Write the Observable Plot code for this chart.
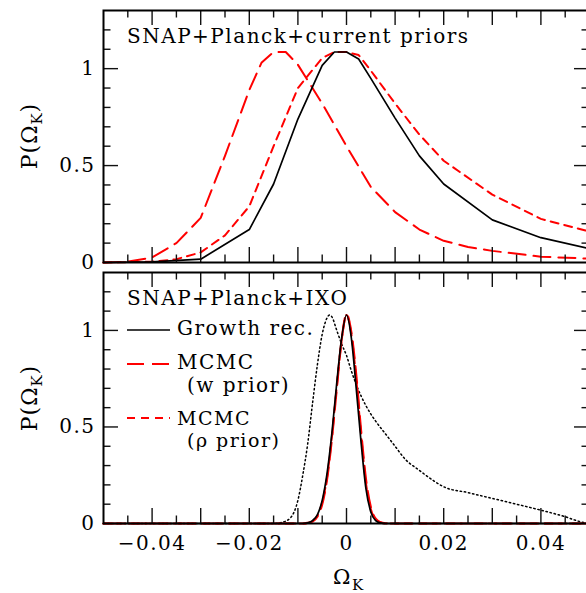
<!DOCTYPE html>
<html>
<head>
<meta charset="utf-8">
<script src="https://cdn.jsdelivr.net/npm/d3@7"></script>
<script src="https://cdn.jsdelivr.net/npm/@observablehq/plot@0.6"></script>
<style>
  html, body { margin: 0; padding: 0; background: white; }
  #chart { position: relative; width: 586px; height: 593px; overflow: hidden; }
  #chart svg { position: absolute; left: 0; }
</style>
</head>
<body>
<div id="chart"></div>
<script>
// ---------- Data ----------
const topGrowthX = [-0.05, -0.04, -0.03, -0.02, -0.015, -0.01, -0.005, -0.0025, 0, 0.0025, 0.005, 0.01, 0.015, 0.02, 0.03, 0.04, 0.05];
const topGrowthP = [0, 0.003, 0.017, 0.17, 0.405, 0.74, 1.017, 1.086, 1.086, 1.05, 0.95, 0.745, 0.55, 0.405, 0.22, 0.128, 0.072];

const topWX = [-0.05, -0.045, -0.04, -0.035, -0.03, -0.025, -0.02, -0.0175, -0.015, -0.0125, -0.01, -0.005, 0, 0.005, 0.01, 0.015, 0.02, 0.025, 0.03, 0.04, 0.05];
const topWP = [0, 0.004, 0.026, 0.1, 0.23, 0.55, 0.89, 1.03, 1.086, 1.086, 1.02, 0.82, 0.6, 0.39, 0.26, 0.17, 0.112, 0.08, 0.06, 0.03, 0.02];

const topRhoX = [-0.05, -0.04, -0.035, -0.03, -0.025, -0.02, -0.015, -0.01, -0.005, -0.0025, 0, 0.0025, 0.005, 0.01, 0.015, 0.02, 0.03, 0.04, 0.05];
const topRhoP = [0, 0.004, 0.017, 0.052, 0.14, 0.29, 0.6, 0.9, 1.055, 1.086, 1.086, 1.07, 0.99, 0.82, 0.66, 0.525, 0.35, 0.225, 0.16];

const botGrowthX = [-0.05, -0.009, -0.008, -0.007, -0.006, -0.005, -0.004, -0.003, -0.002, -0.001, 0, 0.001, 0.002, 0.003, 0.004, 0.005, 0.006, 0.007, 0.008, 0.05];
const botGrowthP = [0, 0, 0.004, 0.015, 0.045, 0.12, 0.26, 0.47, 0.73, 0.96, 1.08, 0.96, 0.7, 0.42, 0.18, 0.06, 0.015, 0.003, 0, 0];

const botWX = [-0.05, -0.009, -0.008, -0.007, -0.006, -0.005, -0.004, -0.003, -0.002, -0.001, 0, 0.001, 0.002, 0.003, 0.004, 0.005, 0.006, 0.007, 0.008, 0.009, 0.05];
const botWP = [0, 0, 0.003, 0.01, 0.035, 0.1, 0.23, 0.44, 0.7, 0.95, 1.085, 0.99, 0.77, 0.48, 0.23, 0.085, 0.025, 0.006, 0.001, 0, 0];

const botRhoX = [-0.05, -0.009, -0.008, -0.007, -0.006, -0.005, -0.004, -0.003, -0.002, -0.001, 0, 0.001, 0.002, 0.003, 0.004, 0.005, 0.006, 0.007, 0.008, 0.009, 0.05];
const botRhoP = [0, 0, 0.003, 0.012, 0.04, 0.11, 0.24, 0.45, 0.71, 0.95, 1.08, 0.98, 0.75, 0.46, 0.21, 0.075, 0.02, 0.005, 0.001, 0, 0];

const botDotX = [-0.05, -0.015, -0.013, -0.0115, -0.01, -0.009, -0.008, -0.007, -0.006, -0.005, -0.004, -0.0035, -0.003, -0.002, -0.001, 0, 0.001, 0.002, 0.004, 0.006, 0.008, 0.01, 0.012, 0.015, 0.018, 0.02, 0.025, 0.03, 0.035, 0.04, 0.045, 0.048, 0.05];
const botDotP = [0, 0, 0.008, 0.03, 0.12, 0.25, 0.41, 0.62, 0.82, 0.98, 1.065, 1.08, 1.07, 1.0, 0.93, 0.87, 0.79, 0.72, 0.61, 0.53, 0.465, 0.4, 0.335, 0.275, 0.22, 0.19, 0.16, 0.13, 0.1, 0.069, 0.035, 0.01, 0];

const xMajorTicks = [-0.04, -0.03, -0.02, -0.01, 0, 0.01, 0.02, 0.03, 0.04];
const xMinorTicks = [-0.045, -0.035, -0.025, -0.015, -0.005, 0.005, 0.015, 0.025, 0.035, 0.045];
const xLabelTicks = [-0.04, -0.02, 0, 0.02, 0.04];
const yMajorTicks = [0, 0.5, 1];
const yMinorTicks = [0.1, 0.2, 0.3, 0.4, 0.6, 0.7, 0.8, 0.9, 1.1, 1.2];
const xDomain = [-0.05, 0.05];
const yDomain = [0, 1.3];

const topTitle = "SNAP+Planck+current priors";
const botTitle = "SNAP+Planck+IXO";
const legendLabels = [["Growth rec."], ["MCMC", "(w prior)"], ["MCMC", "(\u03C1 prior)"]];

// ---------- Helpers ----------
const rows = (xs, ys) => xs.map((x, i) => ({x, y: ys[i]}));
const RED = "#ff0000";
const LONG = "17,8";
const SHORT = "8,6";
const DOT = "1.4,2.8";
const FONT = "'DejaVu Serif', serif";
const WIDTH = 586, ML = 103, MR = -3;
const PW = WIDTH - ML - MR;

const styleStr = (bg) => `font-family: ${FONT}; font-size: 20px; letter-spacing: 1.5px; background: ${bg}; overflow: visible;`;

function tickMarks(PH) {
  const st = {stroke: "#111", strokeWidth: 1.4};
  const m = [];
  for (const [ticks, len] of [[xMajorTicks, 15], [xMinorTicks, 7.5]]) {
    m.push(Plot.ruleX(ticks, {x: d => d, insetTop: PH - len, ...st}));
    m.push(Plot.ruleX(ticks, {x: d => d, insetBottom: PH - len, ...st}));
  }
  for (const [ticks, len] of [[yMajorTicks.filter(d => d > 0), 15], [yMinorTicks, 7.5]]) {
    m.push(Plot.ruleY(ticks, {y: d => d, insetRight: PW - len, ...st}));
    m.push(Plot.ruleY(ticks, {y: d => d, insetLeft: PW - len, ...st}));
  }
  return m;
}

const topDims = {width: WIDTH, height: 275, marginLeft: ML, marginRight: MR, marginTop: 10, marginBottom: 13};
const botDims = {width: WIDTH, height: 331, marginLeft: ML, marginRight: MR, marginTop: 10, marginBottom: 70};

const topPlot = Plot.plot({
  ...topDims,
  style: styleStr("white"),
  x: {domain: xDomain, axis: null},
  y: {domain: yDomain},
  marks: [
    Plot.line(rows(topRhoX, topRhoP), {x: "x", y: "y", stroke: RED, strokeWidth: 2, strokeDasharray: SHORT}),
    Plot.line(rows(topWX, topWP), {x: "x", y: "y", stroke: RED, strokeWidth: 2, strokeDasharray: LONG}),
    Plot.line(rows(topGrowthX, topGrowthP), {x: "x", y: "y", stroke: "black", strokeWidth: 1.7}),
    Plot.axisY({ticks: yMajorTicks, tickSize: 0, tickPadding: 8, label: null, tickFormat: d => String(d), fontSize: 20})
  ]
});

const botPlot = Plot.plot({
  ...botDims,
  style: styleStr("transparent"),
  x: {domain: xDomain},
  y: {domain: yDomain},
  marks: [
    Plot.line(rows(botDotX, botDotP), {x: "x", y: "y", stroke: "black", strokeWidth: 1.5, strokeDasharray: DOT, curve: "monotone-x"}),
    Plot.line(rows(botRhoX, botRhoP), {x: "x", y: "y", stroke: RED, strokeWidth: 2, strokeDasharray: SHORT, curve: "monotone-x"}),
    Plot.line(rows(botWX, botWP), {x: "x", y: "y", stroke: RED, strokeWidth: 2.2, strokeDasharray: LONG, curve: "monotone-x"}),
    Plot.line(rows(botGrowthX, botGrowthP), {x: "x", y: "y", stroke: "black", strokeWidth: 1.7, curve: "monotone-x"}),
    Plot.axisY({ticks: yMajorTicks, tickSize: 0, tickPadding: 8, label: null, tickFormat: d => String(d), fontSize: 20}),
    Plot.axisX({ticks: xLabelTicks, tickSize: 0, tickPadding: 12, label: null, fontSize: 20,
      tickFormat: d => d === 0 ? "0" : (d < 0 ? "\u2212" : "") + String(Math.abs(d))})
  ]
});

// Separate overlay plots for the inward ticks and the frames (same scales and margins)
const frameOverlay = (dims) => Plot.plot({
  ...dims,
  style: styleStr("transparent"),
  x: {domain: xDomain, axis: null},
  y: {domain: yDomain, axis: null},
  marks: [
    ...tickMarks(dims.height - dims.marginTop - dims.marginBottom),
    Plot.frame({stroke: "black", strokeWidth: 2})
  ]
});
const topTicks = frameOverlay(topDims);
const botTicks = frameOverlay(botDims);

const chart = document.getElementById("chart");
topPlot.style.top = "0px";
topTicks.style.top = "0px";
botPlot.style.top = "262px";
botTicks.style.top = "262px";
chart.appendChild(topPlot);
chart.appendChild(topTicks);
chart.appendChild(botPlot);
chart.appendChild(botTicks);

function addText(svg, x, y, str, size) {
  return d3.select(svg).append("text")
    .attr("x", x).attr("y", y)
    .attr("text-anchor", "start")
    .attr("font-family", FONT).attr("font-size", size || 20)
    .attr("letter-spacing", "1.5px").attr("fill", "black")
    .text(str);
}
function addYLabel(svg, cy) {
  const t = d3.select(svg).append("text")
    .attr("transform", `translate(37,${cy}) rotate(-90)`)
    .attr("text-anchor", "middle")
    .attr("font-family", FONT).attr("font-size", 22).attr("letter-spacing", "1px").attr("fill", "black");
  t.append("tspan").text("P(\u03A9");
  t.append("tspan").attr("font-size", 15).attr("dy", 5).text("K");
  t.append("tspan").attr("dy", -5).text(")");
}

addText(topPlot, 127, 43, topTitle);
addYLabel(topPlot, 136);
addText(botPlot, 127, 43, botTitle);
addYLabel(botPlot, 136);

{
  const t = d3.select(botPlot).append("text")
    .attr("x", 333).attr("y", 322)
    .attr("text-anchor", "start")
    .attr("font-family", FONT).attr("font-size", 21).attr("fill", "black");
  t.append("tspan").text("\u03A9");
  t.append("tspan").attr("font-size", 15).attr("dy", 6).text("K");
}

{
  const g = d3.select(botPlot).append("g");
  const sw = [
    {y: 68, stroke: "black", dash: null, w: 1.7},
    {y: 102, stroke: RED, dash: LONG, w: 2.2},
    {y: 156, stroke: RED, dash: SHORT, w: 2}
  ];
  sw.forEach(s => {
    g.append("line").attr("x1", 127).attr("x2", 170).attr("y1", s.y).attr("y2", s.y)
      .attr("stroke", s.stroke).attr("stroke-width", s.w)
      .attr("stroke-dasharray", s.dash);
  });
  addText(botPlot, 177, 73, legendLabels[0][0]);
  addText(botPlot, 177, 107, legendLabels[1][0]);
  addText(botPlot, 187, 130, legendLabels[1][1]);
  addText(botPlot, 177, 163, legendLabels[2][0], 19);
  addText(botPlot, 187, 185, legendLabels[2][1], 19);
}
</script>
</body>
</html>
